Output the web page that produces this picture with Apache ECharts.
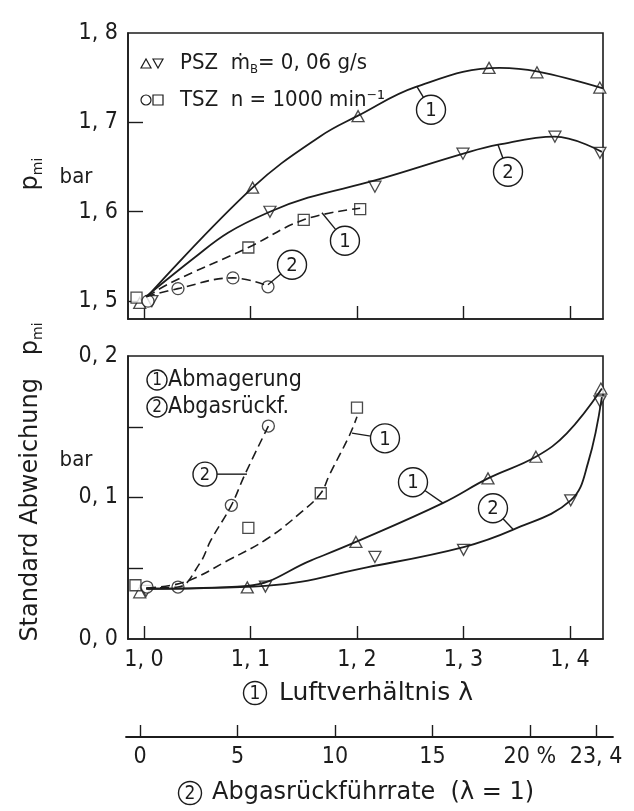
<!DOCTYPE html>
<html><head><meta charset="utf-8">
<script src="https://cdn.jsdelivr.net/npm/echarts@6/dist/echarts.min.js"></script>
<style>html,body{margin:0;padding:0;background:#fff}#c{width:634px;height:811px}</style>
</head><body><div id="c"></div><script>
// ---------- tick labels ----------
const lambdaTicks = [1.0, 1.1, 1.2, 1.3, 1.4];
const egrTicks = [0, 5, 10, 15, 20, 23.4];
const pmiLabels = [1.5, 1.6, 1.7, 1.8];
const pmiTickMarks = [1.5, 1.6, 1.7];
const sdLabels = [0, 0.1, 0.2];
const sdTickMarks = [0.05, 0.1, 0.15];

// ---------- top panel: p_mi [bar] ----------
// PSZ, lean (λ)  – triangles up
const pszLeanPmi = [[0.996, 1.498], [1.102, 1.627], [1.201, 1.707], [1.324, 1.761], [1.369, 1.756], [1.428, 1.739]];
const pszLeanPmiCurve = [[1.003, 1.505], [1.102, 1.627], [1.165, 1.684], [1.201, 1.7075], [1.256, 1.740], [1.334, 1.761], [1.369, 1.757], [1.431, 1.738]];
// PSZ, EGR (%)  – triangles down
const pszEgrPmi = [[0.6, 1.500], [6.66, 1.600], [12.05, 1.628], [16.57, 1.665], [21.29, 1.684], [23.6, 1.666]];
const pszEgrPmiCurve = [[0.3, 1.505], [2.81, 1.549], [4.51, 1.5765], [6.66, 1.600], [8.61, 1.6157], [12.05, 1.635], [16.59, 1.665], [18.38, 1.675], [21.29, 1.684], [23.7, 1.667]];
// TSZ, lean (λ)  – squares
const tszLeanPmi = [[0.993, 1.504], [1.098, 1.560], [1.150, 1.591], [1.203, 1.603]];
const tszLeanPmiCurve = [[1.003, 1.505], [1.025, 1.5205], [1.098, 1.560], [1.150, 1.591], [1.203, 1.604]];
// TSZ, EGR (%)  – circles
const tszEgrPmi = [[0.4, 1.500], [1.94, 1.514], [4.76, 1.526], [6.56, 1.516]];
const tszEgrPmiCurve = [[0.3, 1.505], [1.94, 1.514], [4.76, 1.526], [6.56, 1.517]];

// ---------- bottom panel: standard deviation of p_mi [bar] ----------
const pszLeanSd = [[0.996, 0.033], [1.097, 0.0365], [1.199, 0.0686], [1.323, 0.1135], [1.368, 0.1288], [1.429, 0.177]];
const pszLeanSdCurve = [[1.003, 0.0355], [1.097, 0.0375], [1.157, 0.0556], [1.199, 0.0686], [1.281, 0.0962], [1.323, 0.1135], [1.368, 0.1288], [1.397, 0.1453], [1.43, 0.177]];
const pszEgrSd = [[0.3, 0.034], [6.43, 0.037], [12.05, 0.058], [16.6, 0.063], [22.1, 0.098], [23.6, 0.168]];
const pszEgrSdCurve = [[0.3, 0.0355], [6.43, 0.0375], [11.7, 0.0508], [16.6, 0.065], [19.15, 0.0773], [22.1, 0.098], [23.0, 0.125], [23.7, 0.171]];
const tszLeanSd = [[0.992, 0.038], [1.098, 0.0785], [1.166, 0.103], [1.2, 0.1635]];
const tszLeanSdCurve = [[1.003, 0.036], [1.038, 0.0402], [1.079, 0.0556], [1.116, 0.071], [1.148, 0.0898], [1.166, 0.103], [1.174, 0.1158], [1.193, 0.144], [1.2, 0.157]];
const tszEgrSd = [[0.35, 0.0367], [1.94, 0.0367], [4.68, 0.0945], [6.58, 0.1505]];
const tszEgrSdCurve = [[0.3, 0.036], [1.94, 0.0367], [3.05, 0.0533], [3.63, 0.0698], [4.68, 0.0945], [5.36, 0.1158], [6.58, 0.1505]];

// ---------- curve annotations (circled numbers, in λ / value coordinates) ----------
const topNotes = [
  { n: '1', at: [1.2695, 1.7142], to: [1.2563, 1.740] },
  { n: '2', at: [1.3418, 1.6447], to: [1.3324, 1.675] },
  { n: '1', at: [1.1887, 1.5675], to: [1.1671, 1.5989] },
  { n: '2', at: [1.139, 1.5407], to: [1.1164, 1.5183] }
];
const bottomNotes = [
  { n: '2', at: [1.0573, 0.1165], to: [1.0967, 0.1165], r: 12 },
  { n: '1', at: [1.2263, 0.1418], to: [1.1953, 0.1455] },
  { n: '1', at: [1.2526, 0.1108], to: [1.2808, 0.096] },
  { n: '2', at: [1.3277, 0.0924], to: [1.3465, 0.0776] }
];

// ---------- styling ----------
const INK = '#1c1c1c';
const FC = '"DejaVu Sans Condensed","Liberation Sans Narrow","DejaVu Sans",sans-serif';
const FN = '"DejaVu Sans",sans-serif';
const LAM_MIN = 0.985, LAM_MAX = 1.431;
const EGR_MIN = -0.626, EGR_MAX = 23.758;       // same pixel scale inside the panels
const EGR_AX_MIN = -0.729, EGR_AX_MAX = 24.271; // separate scale bar below

function fmtComma(v) { return v.toFixed(1).replace('.', ', '); }

function lamAxis(grid, labels) {
  return {
    type: 'value', gridIndex: grid, min: LAM_MIN, max: LAM_MAX, position: 'bottom',
    axisLine: { show: true, onZero: false, lineStyle: { color: INK, width: 1.6 } },
    axisTick: { show: true, inside: true, length: 13, customValues: lambdaTicks, lineStyle: { color: INK, width: 1.4 } },
    axisLabel: { show: labels, customValues: lambdaTicks, formatter: fmtComma, margin: 10,
      fontFamily: FC, fontSize: 23, color: INK },
    splitLine: { show: false }
  };
}
function egrHidden(grid) {
  return { type: 'value', gridIndex: grid, min: EGR_MIN, max: EGR_MAX, show: false, position: 'bottom',
    axisLine: { onZero: false }, splitLine: { show: false } };
}

const lineBase = (data, x, y, dashed) => ({
  type: 'line', xAxisIndex: x, yAxisIndex: y, data, showSymbol: false, symbol: 'none',
  smooth: 0.4, silent: true,
  lineStyle: { color: INK, width: dashed ? 1.6 : 1.8, type: dashed ? [9, 5] : 'solid' }
});
const markers = (data, x, y, shape) => ({
  type: 'scatter', xAxisIndex: x, yAxisIndex: y, data, silent: true,
  symbol: shape === 'down' ? 'triangle' : shape,
  symbolRotate: shape === 'down' ? 180 : 0,
  symbolSize: shape === 'circle' ? 12 : (shape === 'rect' ? 11 : [12, 11]),
  itemStyle: { color: '#fff', borderColor: INK, borderWidth: 1.3 }
});

const option = {
  backgroundColor: '#fff',
  animation: false,
  grid: [
    { left: 128, top: 33, width: 475, height: 286, show: true, borderColor: INK, borderWidth: 1.6, backgroundColor: 'transparent' },
    { left: 128, top: 356, width: 475, height: 283, show: true, borderColor: INK, borderWidth: 1.6, backgroundColor: 'transparent' },
    { left: 126, top: 700, width: 487, height: 37, show: false }
  ],
  xAxis: [
    lamAxis(0, false), egrHidden(0), lamAxis(1, true), egrHidden(1),
    {
      type: 'value', gridIndex: 2, min: EGR_AX_MIN, max: EGR_AX_MAX, position: 'bottom',
      axisLine: { show: true, onZero: false, lineStyle: { color: INK, width: 1.8 } },
      axisTick: { show: true, inside: true, length: 12, customValues: egrTicks, lineStyle: { color: INK, width: 1.4 } },
      axisLabel: { customValues: egrTicks, margin: 9, fontFamily: FC, fontSize: 23, color: INK,
        formatter: v => v === 20 ? '20 %' : (Number.isInteger(v) ? String(v) : v.toFixed(1).replace('.', ', ')) },
      splitLine: { show: false }
    }
  ],
  yAxis: [
    {
      type: 'value', gridIndex: 0, min: 1.48, max: 1.8,
      axisLine: { show: true, onZero: false, lineStyle: { color: INK, width: 1.6 } },
      axisTick: { show: true, inside: true, length: 15, customValues: pmiTickMarks, lineStyle: { color: INK, width: 1.4 } },
      axisLabel: { customValues: pmiLabels, formatter: fmtComma, margin: 10, fontFamily: FC, fontSize: 23, color: INK },
      splitLine: { show: false }
    },
    {
      type: 'value', gridIndex: 1, min: 0, max: 0.2,
      axisLine: { show: true, onZero: false, lineStyle: { color: INK, width: 1.6 } },
      axisTick: { show: true, inside: true, length: 15, customValues: sdTickMarks, lineStyle: { color: INK, width: 1.4 } },
      axisLabel: { customValues: sdLabels, formatter: fmtComma, margin: 10, fontFamily: FC, fontSize: 23, color: INK },
      splitLine: { show: false }
    },
    { type: 'value', gridIndex: 2, min: 0, max: 1, show: false, axisLine: { onZero: false }, splitLine: { show: false } }
  ],
  series: [
    lineBase(pszLeanPmiCurve, 0, 0, false),
    lineBase(pszEgrPmiCurve, 1, 0, false),
    lineBase(tszLeanPmiCurve, 0, 0, true),
    lineBase(tszEgrPmiCurve, 1, 0, true),
    markers(pszLeanPmi, 0, 0, 'triangle'),
    markers(pszEgrPmi, 1, 0, 'down'),
    markers(tszLeanPmi, 0, 0, 'rect'),
    markers(tszEgrPmi, 1, 0, 'circle'),

    lineBase(pszLeanSdCurve, 2, 1, false),
    lineBase(pszEgrSdCurve, 3, 1, false),
    lineBase(tszLeanSdCurve, 2, 1, true),
    lineBase(tszEgrSdCurve, 3, 1, true),
    markers(pszLeanSd, 2, 1, 'triangle'),
    markers(pszEgrSd, 3, 1, 'down'),
    markers(tszLeanSd, 2, 1, 'rect'),
    markers(tszEgrSd, 3, 1, 'circle')
  ]
};

const chart = echarts.init(document.getElementById('c'), null, { renderer: 'canvas' });
chart.setOption(option);

// ---------- annotations ----------
function txt(x, y, text, font, align, extra) {
  return Object.assign({ type: 'text', x, y, z: 101,
    style: { text, font, fill: INK, align: align || 'left', verticalAlign: 'middle',
      textAlign: align || 'left', textVerticalAlign: 'middle' } }, extra || {});
}
function circled(cx, cy, r, n, fs) {
  return [
    { type: 'circle', z: 100, shape: { cx, cy, r }, style: { fill: '#fff', stroke: INK, lineWidth: 1.4 } },
    txt(cx, cy + 1, n, (fs || 20) + 'px ' + FC, 'center')
  ];
}
function note(finder, nt) {
  const c = chart.convertToPixel(finder, nt.at);
  const t = chart.convertToPixel(finder, nt.to);
  const r = nt.r || 14.5;
  const dx = t[0] - c[0], dy = t[1] - c[1], d = Math.hypot(dx, dy);
  return [{ type: 'line', z: 100, shape: { x1: c[0] + dx / d * r, y1: c[1] + dy / d * r, x2: t[0], y2: t[1] },
    style: { stroke: INK, lineWidth: 1.4 } }].concat(circled(c[0], c[1], r, nt.n, nt.r ? 18 : 20));
}

let g = [];
topNotes.forEach(n => { g = g.concat(note({ xAxisIndex: 0, yAxisIndex: 0 }, n)); });
bottomNotes.forEach(n => { g = g.concat(note({ xAxisIndex: 2, yAxisIndex: 1 }, n)); });

// top legend
const sym = { fill: '#fff', stroke: INK, lineWidth: 1.2 };
g.push({ type: 'polygon', z: 100, shape: { points: [[141, 68], [151, 68], [146, 59]] }, style: sym });
g.push({ type: 'polygon', z: 100, shape: { points: [[153, 59], [163, 59], [158, 68]] }, style: sym });
g.push({ type: 'circle', z: 100, shape: { cx: 146, cy: 100, r: 5 }, style: sym });
g.push({ type: 'rect', z: 100, shape: { x: 153, y: 95, width: 10, height: 10 }, style: sym });
g.push({ type: 'text', x: 180, y: 63, z: 101, style: {
  text: '{n|PSZ  ṁ}{s|B}{n|= 0, 06 g/s}', fill: INK, align: 'left', verticalAlign: 'middle',
  textAlign: 'left', textVerticalAlign: 'middle',
  rich: { n: { fontFamily: FC, fontSize: 22, lineHeight: 26, fill: INK, color: INK },
          s: { fontFamily: FC, fontSize: 13, lineHeight: 12, verticalAlign: 'bottom', fill: INK, color: INK } } } });
g.push(txt(180, 100, 'TSZ  n = 1000 min⁻¹', '22px ' + FC));

// bottom legend
g = g.concat(circled(157, 380, 10, '1', 17));
g.push(txt(168, 380, 'Abmagerung', '23px ' + FC));
g = g.concat(circled(157, 407, 10, '2', 17));
g.push(txt(168, 407, 'Abgasrückf.', '23px ' + FC));

// axis names
g = g.concat(circled(255, 693, 11.5, '1', 19));
g.push(txt(279, 693, 'Luftverhältnis λ', '25px ' + FN));
g = g.concat(circled(190, 793, 11.5, '2', 19));
g.push(txt(212, 793, 'Abgasrückführrate  (λ = 1)', '24px ' + FN));

const richY = { n: { fontFamily: FN, fontSize: 24, lineHeight: 28, fill: INK, color: INK },
                s: { fontFamily: FN, fontSize: 14, lineHeight: 13, verticalAlign: 'bottom', fill: INK, color: INK } };
g.push({ type: 'text', x: 31, y: 174, rotation: Math.PI / 2, z: 101, style: {
  text: '{n|p}{s|mi}', align: 'center', verticalAlign: 'middle', textAlign: 'center', textVerticalAlign: 'middle', rich: richY } });
g.push({ type: 'text', x: 31, y: 482, rotation: Math.PI / 2, z: 101, style: {
  text: '{n|Standard Abweichung   p}{s|mi}', align: 'center', verticalAlign: 'middle', textAlign: 'center', textVerticalAlign: 'middle', rich: richY } });
g.push(txt(76, 177, 'bar', '22px ' + FC, 'center'));
g.push(txt(76, 460, 'bar', '22px ' + FC, 'center'));

chart.setOption({ graphic: { elements: g } });
</script></body></html>
